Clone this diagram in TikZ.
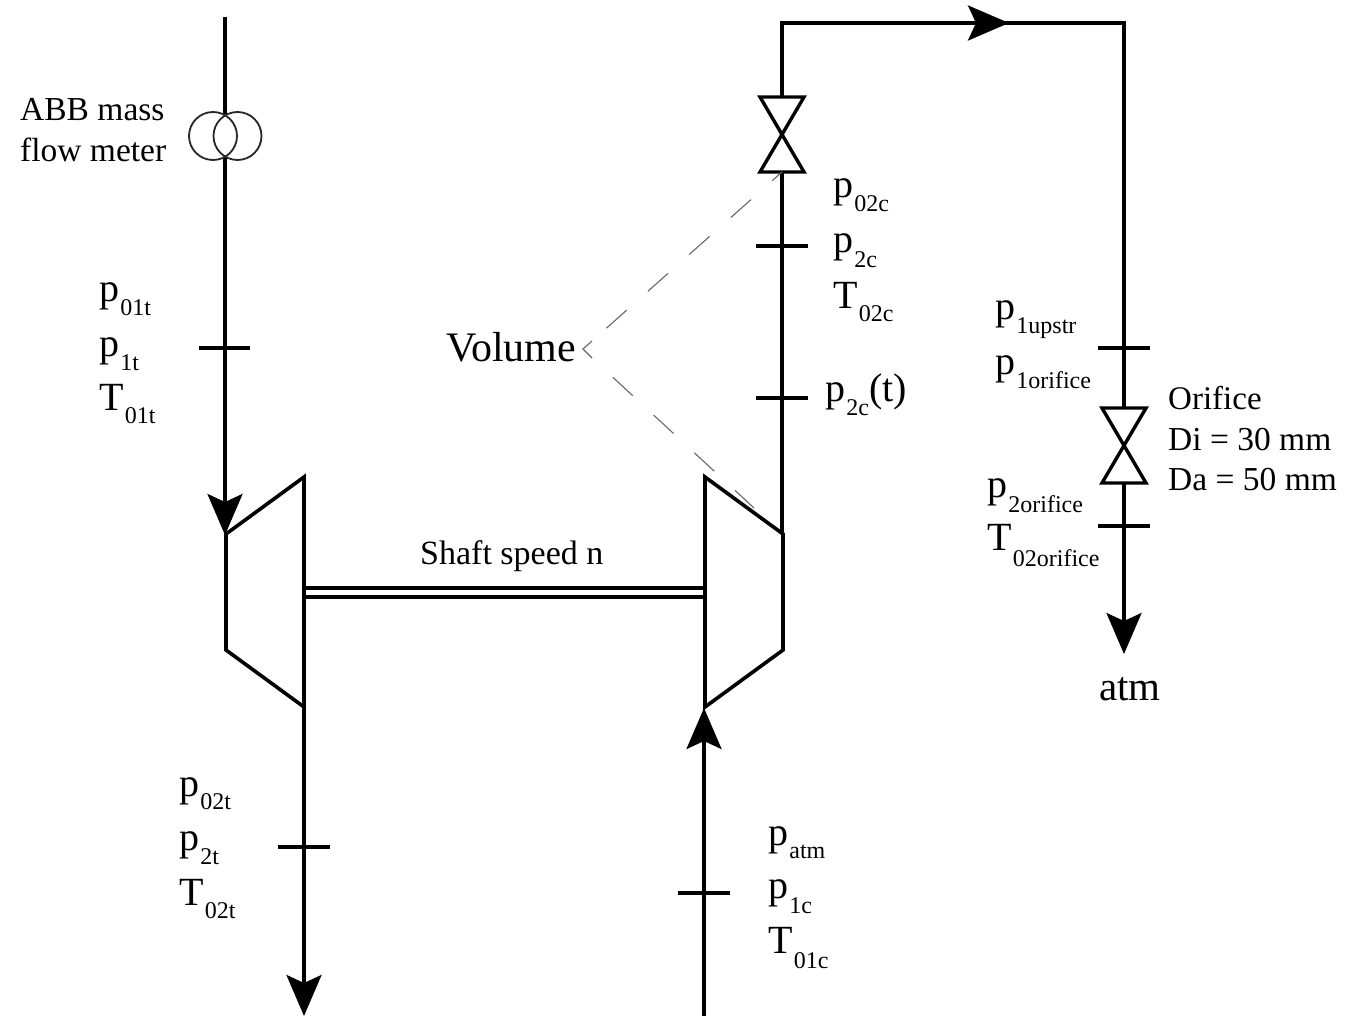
\documentclass[tikz,border=0pt]{standalone}
\usepackage{fontspec}
\setmainfont{Liberation Serif}
\usetikzlibrary{arrows.meta}
\begin{document}
\begin{tikzpicture}[x=1pt,y=-1pt,
 pipe/.style={line width=3.4pt,line join=miter},
 flowarrowb/.style={line width=3.4pt,-{Stealth[length=41pt,width=35pt,inset=8pt]}},
 tick/.style={line width=3.2pt},
 machine/.style={line width=3.6pt,line join=miter},
 valve/.style={line width=3.4pt,line join=miter},
 meter/.style={draw=black!85,circle,line width=1.8pt,minimum size=48pt,inner sep=0pt},
 vol/.style={line width=1.1pt,draw=black!60},
 lab/.style={inner sep=0pt,anchor=base west,font=\fontsize{40}{44}\selectfont},
 smalllab/.style={inner sep=0pt,anchor=base west,font=\fontsize{33.5}{36}\selectfont}]
\useasboundingbox (0,0) rectangle (1356,1016);
\newcommand{\pl}[3]{\node[lab] at (#1,#2) {#3};}
\newcommand{\st}[2][14pt]{\kern1.2pt\raisebox{-#1}{\fontsize{24}{24}\selectfont #2}}
% coordinates
\coordinate (ttop) at (225,17);
\coordinate (m top) at (225,114);
\coordinate (m bot) at (225,157);
\coordinate (tin) at (225,535);
\coordinate (tout) at (304,706);
\coordinate (tend) at (304,1016);
\coordinate (cend) at (704,1016);
\coordinate (cin) at (704,708);
\coordinate (cout) at (782,534);
\coordinate (v1top) at (782,97);
\coordinate (v1bot) at (782,172);
\coordinate (rtop) at (1124,23);
\coordinate (corner) at (782,23);
\coordinate (mid) at (1009,23);
\coordinate (v2top) at (1124,408);
\coordinate (v2bot) at (1124,483);
\coordinate (atmend) at (1124,654);
% pipes
\draw[pipe] (ttop) -- (m top);
\draw[flowarrowb] (m bot) -- (tin);
\draw[flowarrowb] (tout) -- (tend);
\draw[flowarrowb] (cend) -- (cin);
\draw[pipe] (cout) -- (v1bot);
\draw[pipe] (v1top) -- (corner) -- (rtop) -- (v2top);
\draw[flowarrowb] (corner) -- (mid);
\draw[flowarrowb] (v2bot) -- (atmend);
% flow meter
\node[meter] (m1) at (213,136) {};
\node[meter] (m2) at (237.5,136) {};
% machines
\draw[machine] (226,534) -- (304,477) -- (304,707) -- (226,650) -- cycle;
\draw[machine] (705,477) -- (783,534) -- (783,650) -- (705,707) -- cycle;
% shaft
\draw[line width=3.2pt] (304,588) -- (705,588);
\draw[line width=3.2pt] (304,597) -- (705,597);
% valves
\draw[valve] (760,97) -- (804,97) -- (760,172) -- (804,172) -- cycle;
\draw[valve] (1102,408) -- (1146,408) -- (1102,483) -- (1146,483) -- cycle;
% ticks
\draw[tick] (199,348) -- (250,348);
\draw[tick] (278,847) -- (330,847);
\draw[tick] (678,893) -- (730,893);
\draw[tick] (756,246) -- (808,246);
\draw[tick] (756,398) -- (808,398);
\draw[tick] (1098,348) -- (1150,348);
\draw[tick] (1098,526) -- (1150,526);
% volume
\coordinate (volapex) at (583,349);
\coordinate (volup) at (592,341);
\coordinate (vollow) at (592,358);
\draw[vol,dash pattern=on 27pt off 28.5pt,dash phase=14pt] (v1bot) -- (volup);
\draw[vol,dash pattern=on 27pt off 28.5pt,dash phase=27pt] (vollow) -- (754,508);
\draw[vol] (volup) -- (volapex) -- (vollow);
% labels
\node[smalllab] (abb1) at (20,121) {ABB mass};
\node[smalllab] (abb2) at (20,161.5) {flow meter};
\pl{99}{301}{p\st{01t}}
\pl{99}{356}{p\st{1t}}
\pl{99}{410}{T\st[13pt]{01t}}
\pl{179}{796}{p\st[13pt]{02t}}
\pl{179}{850}{p\st{2t}}
\pl{179}{905}{T\st[13pt]{02t}}
\pl{768}{845}{p\st[13pt]{atm}}
\pl{768}{898}{p\st[15pt]{1c}}
\pl{768}{953}{T\st[15pt]{01c}}
\pl{833}{198}{p\st{02c}}
\pl{833}{253}{p\st{2c}}
\pl{833}{308}{T\st[13pt]{02c}}
\pl{825}{401}{p\st{2c}(t)}
\pl{995}{319}{p\st{1upstr}}
\pl{995}{374}{p\st{1orifice}}
\pl{987}{497}{p\st[15pt]{2orifice}}
\pl{987}{550}{T\st[16pt]{02orifice}}
\node[smalllab,font=\fontsize{33}{36}\selectfont] (ori) at (1168,409) {Orifice};
\node[smalllab] (di) at (1168,450) {Di = 30 mm};
\node[smalllab] (da) at (1168,490) {Da = 50 mm};
\node[lab,font=\fontsize{41}{44}\selectfont] (atm) at (1099,700) {atm};
\node[lab,font=\fontsize{42}{44}\selectfont] (vt) at (446,361) {Volume};
\node[smalllab,font=\fontsize{34}{36}\selectfont] (sh) at (420,564) {Shaft speed n};
\end{tikzpicture}
\end{document}
